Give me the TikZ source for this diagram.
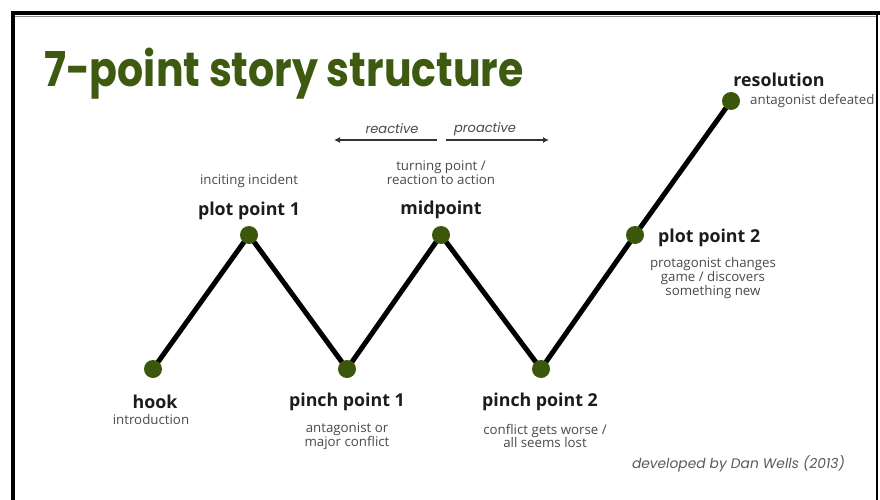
\documentclass[tikz,border=0pt]{standalone}
\usepackage{fontspec}
\setmainfont{Open Sans}
\newfontfamily\titlefont{Poppins}
\usetikzlibrary{arrows.meta}
\definecolor{olive}{HTML}{3E5A10}
\definecolor{dotgreen}{HTML}{3B570C}
\definecolor{txtgray}{HTML}{4A4A4A}
\definecolor{lblack}{HTML}{1C1C1C}
\tikzset{
  dot/.style={circle,fill=dotgreen,inner sep=0pt,minimum size=18pt},
  heading/.style={font=\fontsize{17.8}{20}\selectfont\bfseries,text=lblack,inner sep=0pt},
  note/.style={font=\fontsize{13.3}{13.8}\selectfont,text=txtgray,inner sep=0pt,align=center},
  itnote/.style={font=\titlefont\fontsize{13}{15}\selectfont\itshape,text=txtgray,inner sep=0pt},
  pathline/.style={line width=5pt,black,line join=round},
  dirarrow/.style={line width=1.8pt,draw=black!80,-{Latex[length=6pt,width=6pt]}}
}
\begin{document}
\begin{tikzpicture}[x=1pt,y=-1pt]
\useasboundingbox (0,0) rectangle (880,500);
\fill[white] (0,0) rectangle (880,500);
% frame
\draw[black!45,line width=1pt] (15,16.5) -- (876,16.5);
\draw[black,line width=4pt] (13,500) -- (13,13) -- (880,13);
\draw[black,line width=2pt] (877,13) -- (877,500);
% title
\node[anchor=base west,inner sep=0pt,text=olive,font=\titlefont\fontsize{48}{50}\selectfont\bfseries,xscale=0.855] (title) at (44,87) {7-point story structure};
% points
\coordinate (hook) at (153,369);
\coordinate (pp1) at (249,235);
\coordinate (pinch1) at (347,369);
\coordinate (mid) at (441,235);
\coordinate (pinch2) at (541,369);
\coordinate (pp2) at (635,235);
\coordinate (res) at (731,101);
\draw[pathline] (hook) -- (pp1) -- (pinch1) -- (mid) -- (pinch2) -- (pp2) -- (res);
\foreach \p in {hook,pp1,pinch1,mid,pinch2,pp2,res}
  \node[dot] (\p dot) at (\p) {};
% labels
\node[heading] (hookl) at (155,402) {hook};
\node[note] (hookn) at (151,420) {introduction};
\node[heading] (pinch1l) at (347,402) {pinch point 1};
\node[note] (pinch1n) at (347,436) {antagonist or\\major conflict};
\node[heading] (pinch2l) at (540,402) {pinch point 2};
\node[note] (pinch2n) at (545,436) {conflict gets worse /\\all seems lost};
\node[note] (pp1n) at (249,181) {inciting incident};
\node[heading] (pp1l) at (249,211) {plot point 1};
\node[note] (midn) at (441,172.5) {turning point /\\reaction to action};
\node[heading] (midl) at (441,210) {midpoint};
\node[heading,anchor=west] (pp2l) at (658,238) {plot point 2};
\node[note] (pp2n) at (713,278) {protagonist changes\\game / discovers\\something new};
\node[heading] (resl) at (779,80) {resolution};
\node[note,anchor=west] (resn) at (750,101) {antagonist defeated};
% reactive / proactive
\node[itnote] (reac) at (392,129) {reactive};
\node[itnote] (proac) at (485,129) {proactive};
\coordinate (reacS) at (437,140);
\coordinate (reacE) at (334,140);
\coordinate (proS) at (446,140);
\coordinate (proE) at (549,140);
\draw[dirarrow] (reacS) -- (reacE);
\draw[dirarrow] (proS) -- (proE);
% credit
\node[itnote,anchor=east,text=black!65,font=\titlefont\fontsize{13.8}{15}\selectfont\itshape] (credit) at (845,464) {developed by Dan Wells (2013)};
\end{tikzpicture}
\end{document}
